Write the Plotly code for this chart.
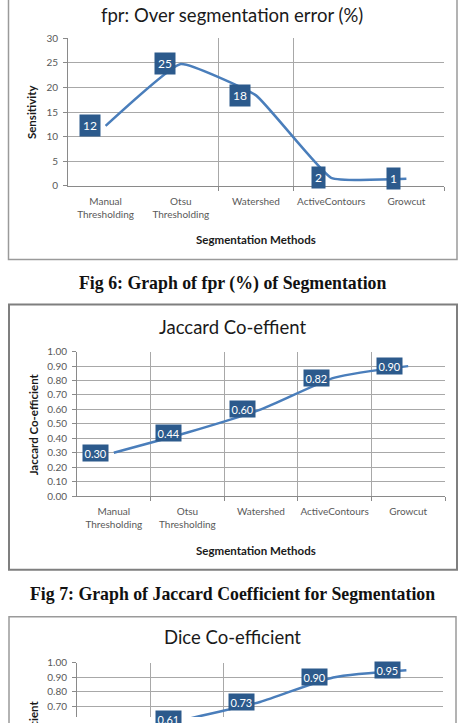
import plotly.graph_objects as go

W, H = 461, 723

# ---------------- data ----------------
methods = ["Manual<br>Thresholding", "Otsu<br>Thresholding", "Watershed", "ActiveContours", "Growcut"]
fpr_values = [12.2, 24.8, 18.4, 1.6, 1.4]
jaccard_values = [0.30, 0.44, 0.60, 0.82, 0.90]
dice_values = [0.46, 0.61, 0.73, 0.90, 0.95]

fpr_yticks = [0, 5, 10, 15, 20, 25, 30]
coef_yticks = [0.0, 0.1, 0.2, 0.3, 0.4, 0.5, 0.6, 0.7, 0.8, 0.9, 1.0]

chart_titles = ["fpr: Over segmentation error (%)", "Jaccard Co-effient", "Dice Co-efficient"]
y_titles = ["Sensitivity", "Jaccard Co-efficient", "Dice Co-efficient"]
x_title = "Segmentation Methods"
captions = ["Fig 6: Graph of fpr (%) of Segmentation",
            "Fig 7: Graph of Jaccard Coefficient for Segmentation"]

# ---------------- styling / layout ----------------
LINE = "#4A7EBB"
BOX = "#2C5A8C"
GRID = "#A8A8A8"
AXIS = "#8A8A8A"
TICKC = "#595959"
FONT = "Lato"


def px(x):
    return x / W


def py(y):
    return 1 - y / H


panels = [
    dict(values=fpr_values, yticks=fpr_yticks, yrange=[0, 30], fmt="{:.0f}", tfmt="{:d}",
         plot=(68, 444, 32, 182), frame=(8.5, 457, -10, 257, 1.5, "#9A9A9A"),
         title_y=8, ytitle=(31, 107), xtitle_y=237, grid=[1.5, 2.5, 4.5], smooth=0.35,
         pad=3, lsize=12),
    dict(values=jaccard_values, yticks=coef_yticks, yrange=[0, 1], fmt="{:.2f}", tfmt="{:.2f}",
         plot=(77, 445, 351, 498), frame=(9, 457, 303, 573, 2, "#7F7F7F"),
         title_y=326, ytitle=(33, 425), xtitle_y=553, grid=[0.5, 1.5, 2.5, 3.5, 4.5], smooth=0.6,
         pad=1.5, lsize=11),
    dict(values=dice_values, yticks=coef_yticks, yrange=[0, 1], fmt="{:.2f}", tfmt="{:.2f}",
         plot=(77, 443, 668, 815), frame=(9, 456, 621, 760, 1.5, "#9A9A9A"),
         title_y=642, ytitle=(33, 751), xtitle_y=None, grid=[0.5, 1.5, 4.5], smooth=0.6,
         pad=1.5, lsize=11),
]

fig = go.Figure()
shapes = []
annotations = []
layout_axes = {}

xs = list(range(len(methods)))

for i, p in enumerate(panels):
    n = i + 1
    xa = "x" if n == 1 else f"x{n}"
    ya = "y" if n == 1 else f"y{n}"
    l, r, t, b = p["plot"]
    lo, hi = p["yrange"]
    full_h = b - t
    scale = (hi - lo) / full_h  # value per pixel
    vis_b = min(b, H)
    vis_lo = hi - (vis_b - t) * scale

    fig.add_trace(go.Scatter(
        x=xs, y=p["values"], mode="lines", xaxis=xa, yaxis=ya,
        line=dict(color=LINE, width=2.5, shape="spline", smoothing=p["smooth"]),
        hoverinfo="skip", showlegend=False, cliponaxis=True,
    ))

    # data labels (boxes to the left of each point)
    for xv, v in zip(xs, p["values"]):
        yv = max(v, vis_lo)
        shift = -(yv - v) / scale
        if shift < -30:
            continue  # box lies entirely below the visible page
        annotations.append(dict(
            x=xv, y=yv, xref=xa, yref=ya, text=p["fmt"].format(v), showarrow=False,
            xanchor="right", yanchor="middle", xshift=-5, yshift=shift,
            bgcolor=BOX, borderpad=p["pad"],
            font=dict(family=FONT, size=p["lsize"], color="white"),
        ))

    xkey = "xaxis" if n == 1 else f"xaxis{n}"
    ykey = "yaxis" if n == 1 else f"yaxis{n}"
    layout_axes[xkey] = dict(
        domain=[px(l), px(r)], anchor=ya, range=[-0.5, 4.5],
        tickmode="array", tickvals=xs, ticktext=methods, ticks="",
        showticklabels=(n != 3), ticklabelstandoff=6,
        tickfont=dict(family=FONT, size=10, color=TICKC),
        showgrid=False, zeroline=False, showline=(n != 3), linecolor=AXIS, linewidth=1,
        minor=dict(tickmode="array", tickvals=p["grid"], showgrid=True, gridcolor=GRID,
                   gridwidth=1, ticks="outside" if n != 3 else "", ticklen=4, tickcolor=AXIS),
        fixedrange=True,
    )
    layout_axes[ykey] = dict(
        domain=[py(vis_b), py(t)], anchor=xa, range=[vis_lo, hi],
        tickmode="array", tickvals=p["yticks"],
        ticktext=[p["tfmt"].format(v) for v in p["yticks"]],
        ticks="outside", ticklen=4, tickcolor=AXIS, ticklabelstandoff=3,
        tickfont=dict(family=FONT, size=10, color=TICKC),
        showgrid=True, gridcolor=GRID, gridwidth=1, zeroline=False,
        showline=True, linecolor=AXIS, linewidth=1, fixedrange=True,
    )

    # chart frame
    fx0, fx1, fy0, fy1, fw, fc = p["frame"]
    shapes.append(dict(type="rect", xref="paper", yref="paper",
                       x0=px(fx0), x1=px(fx1), y0=py(fy1), y1=py(fy0),
                       line=dict(color=fc, width=fw), fillcolor="rgba(0,0,0,0)", layer="above"))

    # chart title
    annotations.append(dict(x=px(232), y=py(p["title_y"]), xref="paper", yref="paper",
                            text=chart_titles[i], showarrow=False, xanchor="center", yanchor="middle",
                            font=dict(family=FONT, size=18.5, color="#1A1A1A")))
    # y title
    yx, yy = p["ytitle"]
    annotations.append(dict(x=px(yx), y=py(yy), xref="paper", yref="paper",
                            text=y_titles[i], showarrow=False, textangle=-90,
                            xanchor="center", yanchor="middle",
                            font=dict(family=FONT, size=11.5, color="#1A1A1A", weight="bold")))
    # x title
    if p["xtitle_y"] is not None:
        annotations.append(dict(x=px(256), y=py(p["xtitle_y"]), xref="paper", yref="paper",
                                text=x_title, showarrow=False, xanchor="center", yanchor="middle",
                                font=dict(family=FONT, size=11.5, color="#1A1A1A", weight="bold")))

# figure captions
for cap, cy in zip(captions, [282, 598]):
    annotations.append(dict(x=px(232), y=py(cy), xref="paper", yref="paper", text=cap,
                            showarrow=False, xanchor="center", yanchor="middle",
                            font=dict(family="Liberation Serif", size=17.8, color="#111111",
                                      weight="bold")))

fig.update_layout(
    width=W, height=H, margin=dict(l=0, r=0, t=0, b=0),
    paper_bgcolor="white", plot_bgcolor="white",
    shapes=shapes, annotations=annotations, showlegend=False,
    **layout_axes,
)

fig.write_html("out.html", config={"displayModeBar": False, "staticPlot": True})
